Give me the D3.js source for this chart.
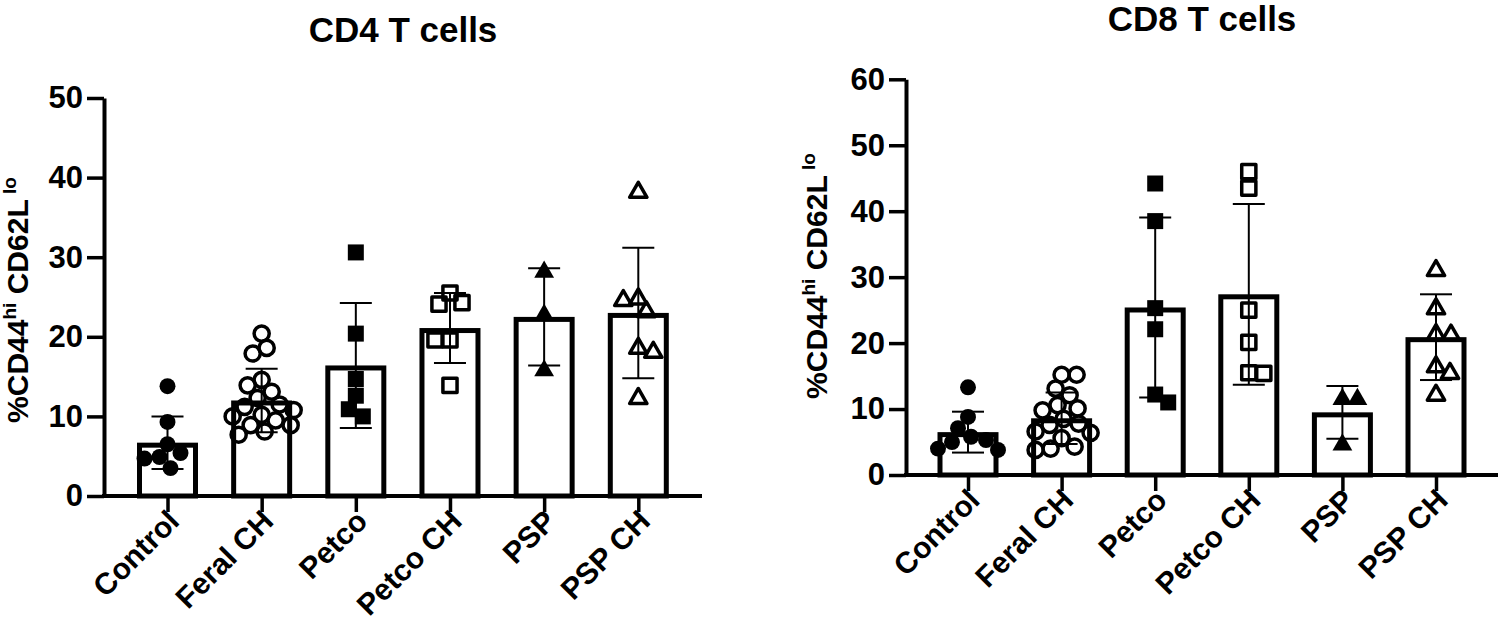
<!DOCTYPE html>
<html>
<head>
<meta charset="utf-8">
<script src="https://cdn.jsdelivr.net/npm/d3@7"></script>
<style>
  body { margin: 0; background: #fff; }
  svg { display: block; }
  text { font-family: Arial, "Liberation Sans", Helvetica, sans-serif; font-weight: bold; fill: #000; }
</style>
</head>
<body>
<svg id="chart" width="1500" height="629"></svg>
<script>
// groups on the x axis (same for both panels)
var groups = ["Control", "Feral CH", "Petco", "Petco CH", "PSP", "PSP CH"];

// CD4 panel: bar means, SD and the individual animals
var cd4Title = "CD4 T cells";
var cd4Means = [6.7, 12.0, 16.4, 21.1, 22.5, 23.0];
var cd4Sd = [3.3, 4.0, 7.85, 4.4, 6.1, 8.2];
var cd4Points = [
  [13.8, 9.3, 6.5, 5.4, 4.9, 4.7, 3.5],
  [20.4, 18.6, 17.9, 14.6, 13.9, 13.1, 12.3, 11.5, 11.2, 10.8, 10.2, 10.0, 9.5, 8.9, 8.9, 8.1, 7.7],
  [30.6, 20.4, 14.7, 12.6, 10.9, 10.0],
  [25.5, 24.3, 24.1, 19.6, 19.6, 13.9],
  [28.4, 23.0, 16.0],
  [38.4, 25.0, 24.8, 23.4, 18.8, 18.3, 12.5]
];
var cd4Ticks = [0, 10, 20, 30, 40, 50];

// CD8 panel
var cd8Title = "CD8 T cells";
var cd8Means = [6.5, 8.6, 25.4, 27.4, 9.5, 20.9];
var cd8Sd = [3.1, 3.9, 13.65, 13.7, 4.0, 6.5];
var cd8Points = [
  [13.3, 8.8, 7.1, 5.8, 5.3, 5.0, 4.0, 3.8],
  [15.2, 15.2, 13.1, 12.1, 10.6, 10.1, 9.8, 8.5, 7.8, 7.6, 6.6, 6.4, 5.6, 4.3, 4.0, 3.8],
  [44.2, 38.5, 25.3, 22.1, 12.2, 11.0],
  [46.0, 43.5, 25.0, 20.1, 15.5, 15.4],
  [11.8, 11.8, 4.9],
  [31.3, 25.5, 21.6, 21.5, 16.7, 15.7, 12.4]
];
var cd8Ticks = [0, 10, 20, 30, 40, 50, 60];

// marker style per group (prism style: filled / open alternating)
var markerStyle = [
  {shape: d3.symbolCircle, size: 200, filled: true},
  {shape: d3.symbolCircle, size: 180, filled: false},
  {shape: d3.symbolSquare, size: 256, filled: true},
  {shape: d3.symbolSquare, size: 200, filled: false},
  {shape: d3.symbolTriangle, size: 170, filled: true},
  {shape: d3.symbolTriangle, size: 130, filled: false}
];

var svg = d3.select("#chart");

// simple beeswarm so points with close values spread sideways
function swarm(vals, y, minDist) {
  var placed = [];
  return vals.map(function(v, i) {
    var py = y(v);
    var dx = 0;
    for (var k = 0; k < 80; k++) {
      var cands = k === 0 ? [0] : (i % 2 ? [k, -k] : [-k, k]);
      var found = null;
      for (var c = 0; c < cands.length; c++) {
        var ok = placed.every(function(p) { return Math.hypot(p.dx - cands[c], p.y - py) >= minDist; });
        if (ok) { found = cands[c]; break; }
      }
      if (found !== null) { dx = found; break; }
    }
    placed.push({dx: dx, y: py});
    return {v: v, dx: dx, y: py};
  });
}

function drawPanel(p) {
  var g = svg.append("g");

  var y = d3.scaleLinear().domain([0, d3.max(p.ticks)]).range(p.yRange);
  var x = d3.scalePoint().domain(groups).range(p.catRange);

  // title
  g.append("text")
    .attr("x", (p.axisX[0] + p.axisX[1]) / 2)
    .attr("y", p.titleY)
    .attr("text-anchor", "middle")
    .style("font-size", "35px")
    .text(p.title);

  // bars (border drawn inside the bar like prism does)
  var bw = 61, sw = 5;
  g.selectAll("rect.bar")
    .data(p.means)
    .enter()
    .append("rect")
    .attr("class", "bar")
    .attr("x", function(d, i) { return x(groups[i]) - bw / 2 + sw / 2; })
    .attr("y", function(d) { return y(d) + sw / 2; })
    .attr("width", bw - sw)
    .attr("height", function(d) { return y(0) - y(d) - sw / 2; })
    .attr("fill", "none")
    .attr("stroke", "#000")
    .attr("stroke-width", sw);

  // scatter points
  p.points.forEach(function(vals, i) {
    var st = markerStyle[i];
    var sym = d3.symbol().type(st.shape).size(st.size);
    var pts = swarm(vals, y, 15);
    g.selectAll(null)
      .data(pts)
      .enter()
      .append("path")
      .attr("d", sym)
      .attr("transform", function(d) {
        var off = st.shape === d3.symbolTriangle ? 2 : 0;
        return "translate(" + (x(groups[i]) + d.dx) + "," + (d.y + off) + ")";
      })
      .attr("fill", st.filled ? "#000" : "none")
      .attr("stroke", "#000")
      .attr("stroke-linejoin", "round")
      .attr("stroke-width", st.filled ? 0 : 3.5);
  });

  // error bars (mean +/- SD)
  var cap = 32;
  p.means.forEach(function(m, i) {
    var cx = x(groups[i]);
    var lo = y(m - p.sd[i]), hi = y(m + p.sd[i]);
    g.append("line").attr("x1", cx).attr("x2", cx).attr("y1", lo).attr("y2", hi)
      .attr("stroke", "#000").attr("stroke-width", 2);
    [lo, hi].forEach(function(yy) {
      g.append("line").attr("x1", cx - cap / 2).attr("x2", cx + cap / 2).attr("y1", yy).attr("y2", yy)
        .attr("stroke", "#000").attr("stroke-width", 2);
    });
  });

  // y axis
  var yAxis = g.append("g")
    .attr("transform", "translate(" + p.axisX[0] + ",0)")
    .call(d3.axisLeft(y).tickValues(p.ticks).tickSize(17).tickPadding(4).tickSizeOuter(0));
  yAxis.select(".domain").attr("stroke-width", 4).attr("stroke", "#000");
  yAxis.selectAll(".tick line").attr("stroke-width", 3.5).attr("stroke", "#000");
  yAxis.selectAll(".tick text").style("font-size", "31px").attr("fill", "#000")
    .attr("font-family", null);

  // x axis
  var xAxis = g.append("g")
    .attr("transform", "translate(0," + y(0) + ")")
    .call(d3.axisBottom(x).tickSize(16).tickSizeOuter(0));
  xAxis.select(".domain").remove();
  xAxis.append("line")
    .attr("x1", p.axisX[0] - 2).attr("x2", p.axisX[1])
    .attr("stroke", "#000").attr("stroke-width", 4);
  xAxis.selectAll(".tick line").attr("stroke-width", 3.5).attr("stroke", "#000");
  xAxis.selectAll(".tick text")
    .style("font-size", "30px")
    .attr("fill", "#000")
    .attr("font-family", null)
    .attr("text-anchor", "end")
    .attr("dy", 0)
    .attr("y", 0)
    .attr("transform", "translate(13,27) rotate(-45)");

  // y axis title with superscripts
  var lab = g.append("text")
    .attr("transform", "translate(" + p.labelX + "," + p.labelY + ") rotate(-90)")
    .attr("text-anchor", "middle")
    .style("font-size", "30px");
  lab.append("tspan").text("%CD44");
  lab.append("tspan").text("hi").style("font-size", "19px").attr("dy", -12);
  lab.append("tspan").text(" CD62L").attr("dy", 12);
  lab.append("tspan").text(" lo").style("font-size", "19px").attr("dy", -12);
}

drawPanel({
  title: cd4Title, titleY: 42,
  means: cd4Means, sd: cd4Sd, points: cd4Points, ticks: cd4Ticks,
  yRange: [496, 98], axisX: [104, 702], catRange: [167.5, 638.3],
  labelX: 28, labelY: 300
});

drawPanel({
  title: cd8Title, titleY: 31,
  means: cd8Means, sd: cd8Sd, points: cd8Points, ticks: cd8Ticks,
  yRange: [475, 79.3], axisX: [906, 1498], catRange: [968, 1436],
  labelX: 827, labelY: 276
});
</script>
</body>
</html>
